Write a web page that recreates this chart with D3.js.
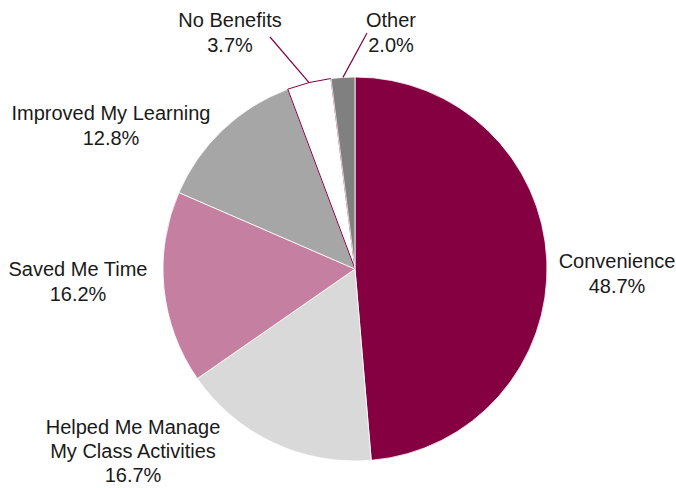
<!DOCTYPE html>
<html><head><meta charset="utf-8">
<script src="https://cdn.jsdelivr.net/npm/d3@7"></script>
<style>html,body{margin:0;padding:0;background:#fff}svg{display:block}</style>
</head><body>
<svg id="chart" width="676" height="488"></svg>
<script>
const categories = ["Convenience","Helped Me Manage My Class Activities","Saved Me Time","Improved My Learning","No Benefits","Other"];
const values = [48.7, 16.7, 16.2, 12.8, 3.7, 2.0];
const labelLines = [["Convenience"],["Helped Me Manage","My Class Activities"],["Saved Me Time"],["Improved My Learning"],["No Benefits"],["Other"]];
const colors = ["#850040","#d9d9d9","#c57fa0","#a6a6a6","#ffffff","#808080"];

const W = 676, H = 488, cx = 355, cy = 269, R = 192;
// label layout: center x and first-line baseline; optional leader end point
const layout = [
  {x:617, y:268},
  {x:133, y:434, lh:24},
  {x:78,  y:276},
  {x:111, y:120},
  {x:230, y:27, lead:[270,37]},
  {x:391, y:27, lead:[367,33]}
];
const data = categories.map((c,i)=>({c, v:values[i], lines:labelLines[i], color:colors[i], i}));
const svg = d3.select("#chart");
const g = svg.append("g").attr("transform",`translate(${cx},${cy})`);
const pie = d3.pie().value(d=>d.v).sort(null);
const arc = d3.arc().innerRadius(0).outerRadius(R);
const arcs = pie(data);
g.selectAll("path.slice").data(arcs).join("path")
  .attr("class","slice")
  .attr("d",arc)
  .attr("fill",d=>d.data.color)
  .attr("stroke",d=>d.data.color==="#ffffff" ? "#850040" : "#ffffff")
  .attr("stroke-width",d=>d.data.color==="#ffffff" ? 1 : 0.8);
// leader lines
arcs.forEach(a=>{
  const L = layout[a.data.i];
  if(!L.lead) return;
  const m = (a.startAngle+a.endAngle)/2;
  const x1 = cx + R*Math.sin(m), y1 = cy - R*Math.cos(m);
  svg.append("line").attr("x1",x1).attr("y1",y1).attr("x2",L.lead[0]).attr("y2",L.lead[1])
    .attr("stroke","#850040").attr("stroke-width",1.2);
});
// labels
const fmt = d3.format(".1f");
arcs.forEach(a=>{
  const L = layout[a.data.i];
  const t = svg.append("text").attr("text-anchor","middle")
    .attr("font-family","Liberation Sans, Arial, sans-serif").attr("font-size",20).attr("fill","#1a1a1a");
  const lines = a.data.lines.concat([fmt(a.data.v)+"%"]);
  lines.forEach((s,k)=>{
    t.append("tspan").attr("x",L.x).attr("y",L.y + k*(L.lh||24.5)).text(s);
  });
});
</script>
</body></html>
